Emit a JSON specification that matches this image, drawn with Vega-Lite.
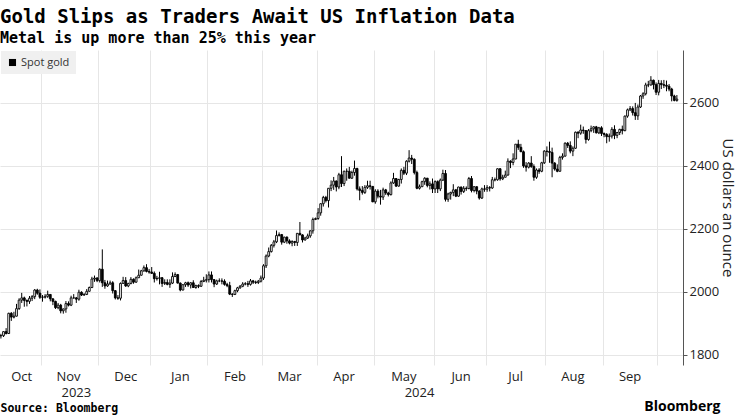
{
  "$schema": "https://vega.github.io/schema/vega-lite/v6.json",
  "width": 683,
  "height": 315,
  "autosize": {"type": "none"},
  "padding": {"left": 0, "top": 50, "right": 57, "bottom": 51},
  "background": "#ffffff",
  "title": {
    "text": "Gold Slips as Traders Await US Inflation Data",
    "subtitle": "Metal is up more than 25% this year",
    "anchor": "start",
    "frame": "group",
    "font": "DejaVu Sans Mono",
    "fontWeight": "bold",
    "fontSize": 19,
    "color": "#000000",
    "subtitleFont": "DejaVu Sans Mono",
    "subtitleFontWeight": "bold",
    "subtitleFontSize": 15,
    "subtitleColor": "#000000",
    "subtitlePadding": 4,
    "offset": 4
  },
  "config": {"view": {"stroke": null}, "font": "Open Sans"},
  "data": {"values": [
{"d":"2023-10-10","o":1861,"h":1867,"l":1852,"c":1861},
{"d":"2023-10-11","o":1861,"h":1875,"l":1857,"c":1874},
{"d":"2023-10-12","o":1874,"h":1885,"l":1865,"c":1868},
{"d":"2023-10-13","o":1868,"h":1934,"l":1867,"c":1932},
{"d":"2023-10-16","o":1932,"h":1936,"l":1908,"c":1920},
{"d":"2023-10-17","o":1920,"h":1937,"l":1916,"c":1923},
{"d":"2023-10-18","o":1923,"h":1962,"l":1922,"c":1947},
{"d":"2023-10-19","o":1947,"h":1980,"l":1943,"c":1974},
{"d":"2023-10-20","o":1974,"h":1997,"l":1965,"c":1981},
{"d":"2023-10-23","o":1981,"h":1985,"l":1953,"c":1973},
{"d":"2023-10-24","o":1973,"h":1976,"l":1954,"c":1970},
{"d":"2023-10-25","o":1970,"h":1987,"l":1962,"c":1980},
{"d":"2023-10-26","o":1980,"h":1990,"l":1971,"c":1985},
{"d":"2023-10-27","o":1985,"h":2009,"l":1977,"c":2006},
{"d":"2023-10-30","o":2006,"h":2010,"l":1991,"c":1996},
{"d":"2023-10-31","o":1996,"h":2008,"l":1978,"c":1983},
{"d":"2023-11-01","o":1983,"h":1990,"l":1969,"c":1983},
{"d":"2023-11-02","o":1983,"h":1993,"l":1979,"c":1986},
{"d":"2023-11-03","o":1986,"h":2004,"l":1981,"c":1992},
{"d":"2023-11-06","o":1992,"h":1993,"l":1970,"c":1978},
{"d":"2023-11-07","o":1978,"h":1980,"l":1958,"c":1970},
{"d":"2023-11-08","o":1970,"h":1972,"l":1946,"c":1950},
{"d":"2023-11-09","o":1950,"h":1965,"l":1945,"c":1958},
{"d":"2023-11-10","o":1958,"h":1962,"l":1932,"c":1940},
{"d":"2023-11-13","o":1940,"h":1947,"l":1931,"c":1946},
{"d":"2023-11-14","o":1946,"h":1971,"l":1934,"c":1963},
{"d":"2023-11-15","o":1963,"h":1970,"l":1954,"c":1958},
{"d":"2023-11-16","o":1958,"h":1988,"l":1955,"c":1981},
{"d":"2023-11-17","o":1981,"h":1993,"l":1979,"c":1981},
{"d":"2023-11-20","o":1981,"h":1984,"l":1965,"c":1977},
{"d":"2023-11-21","o":1977,"h":2007,"l":1972,"c":1999},
{"d":"2023-11-22","o":1999,"h":2002,"l":1987,"c":1990},
{"d":"2023-11-23","o":1990,"h":1996,"l":1988,"c":1992},
{"d":"2023-11-24","o":1992,"h":2009,"l":1990,"c":2002},
{"d":"2023-11-27","o":2002,"h":2017,"l":2001,"c":2014},
{"d":"2023-11-28","o":2014,"h":2048,"l":2012,"c":2041},
{"d":"2023-11-29","o":2041,"h":2052,"l":2032,"c":2044},
{"d":"2023-11-30","o":2044,"h":2047,"l":2031,"c":2036},
{"d":"2023-12-01","o":2036,"h":2075,"l":2030,"c":2072},
{"d":"2023-12-04","o":2072,"h":2135,"l":2016,"c":2029},
{"d":"2023-12-05","o":2029,"h":2038,"l":2010,"c":2019},
{"d":"2023-12-06","o":2019,"h":2036,"l":2016,"c":2025},
{"d":"2023-12-07","o":2025,"h":2036,"l":2023,"c":2029},
{"d":"2023-12-08","o":2029,"h":2034,"l":1995,"c":2004},
{"d":"2023-12-11","o":2004,"h":2006,"l":1976,"c":1981},
{"d":"2023-12-12","o":1981,"h":1990,"l":1975,"c":1980},
{"d":"2023-12-13","o":1980,"h":2030,"l":1973,"c":2027},
{"d":"2023-12-14","o":2027,"h":2048,"l":2026,"c":2036},
{"d":"2023-12-15","o":2036,"h":2047,"l":2016,"c":2019},
{"d":"2023-12-18","o":2019,"h":2029,"l":2015,"c":2027},
{"d":"2023-12-19","o":2027,"h":2047,"l":2024,"c":2040},
{"d":"2023-12-20","o":2040,"h":2043,"l":2026,"c":2031},
{"d":"2023-12-21","o":2031,"h":2049,"l":2029,"c":2045},
{"d":"2023-12-22","o":2045,"h":2071,"l":2044,"c":2053},
{"d":"2023-12-26","o":2053,"h":2070,"l":2052,"c":2067},
{"d":"2023-12-27","o":2067,"h":2084,"l":2064,"c":2077},
{"d":"2023-12-28","o":2077,"h":2088,"l":2062,"c":2065},
{"d":"2023-12-29","o":2065,"h":2073,"l":2058,"c":2063},
{"d":"2024-01-02","o":2063,"h":2079,"l":2057,"c":2059},
{"d":"2024-01-03","o":2059,"h":2065,"l":2030,"c":2042},
{"d":"2024-01-04","o":2042,"h":2051,"l":2036,"c":2043},
{"d":"2024-01-05","o":2043,"h":2064,"l":2024,"c":2045},
{"d":"2024-01-08","o":2045,"h":2047,"l":2016,"c":2027},
{"d":"2024-01-09","o":2027,"h":2040,"l":2022,"c":2030},
{"d":"2024-01-10","o":2030,"h":2040,"l":2021,"c":2024},
{"d":"2024-01-11","o":2024,"h":2040,"l":2013,"c":2028},
{"d":"2024-01-12","o":2028,"h":2062,"l":2025,"c":2049},
{"d":"2024-01-15","o":2049,"h":2062,"l":2047,"c":2055},
{"d":"2024-01-16","o":2055,"h":2057,"l":2027,"c":2028},
{"d":"2024-01-17","o":2028,"h":2030,"l":2002,"c":2006},
{"d":"2024-01-18","o":2006,"h":2024,"l":2005,"c":2023},
{"d":"2024-01-19","o":2023,"h":2032,"l":2016,"c":2029},
{"d":"2024-01-22","o":2029,"h":2033,"l":2016,"c":2022},
{"d":"2024-01-23","o":2022,"h":2031,"l":2011,"c":2029},
{"d":"2024-01-24","o":2029,"h":2037,"l":2013,"c":2014},
{"d":"2024-01-25","o":2014,"h":2023,"l":2010,"c":2020},
{"d":"2024-01-26","o":2020,"h":2024,"l":2012,"c":2018},
{"d":"2024-01-29","o":2018,"h":2038,"l":2016,"c":2033},
{"d":"2024-01-30","o":2033,"h":2048,"l":2031,"c":2037},
{"d":"2024-01-31","o":2037,"h":2056,"l":2030,"c":2039},
{"d":"2024-02-01","o":2039,"h":2065,"l":2030,"c":2054},
{"d":"2024-02-02","o":2054,"h":2065,"l":2030,"c":2039},
{"d":"2024-02-05","o":2039,"h":2041,"l":2015,"c":2025},
{"d":"2024-02-06","o":2025,"h":2039,"l":2022,"c":2035},
{"d":"2024-02-07","o":2035,"h":2043,"l":2031,"c":2035},
{"d":"2024-02-08","o":2035,"h":2043,"l":2024,"c":2034},
{"d":"2024-02-09","o":2034,"h":2040,"l":2020,"c":2024},
{"d":"2024-02-12","o":2024,"h":2029,"l":2015,"c":2020},
{"d":"2024-02-13","o":2020,"h":2032,"l":1990,"c":1993},
{"d":"2024-02-14","o":1993,"h":1996,"l":1984,"c":1992},
{"d":"2024-02-15","o":1992,"h":2007,"l":1990,"c":2004},
{"d":"2024-02-16","o":2004,"h":2016,"l":1999,"c":2013},
{"d":"2024-02-19","o":2013,"h":2022,"l":2010,"c":2018},
{"d":"2024-02-20","o":2018,"h":2031,"l":2015,"c":2025},
{"d":"2024-02-21","o":2025,"h":2031,"l":2021,"c":2026},
{"d":"2024-02-22","o":2026,"h":2035,"l":2016,"c":2024},
{"d":"2024-02-23","o":2024,"h":2041,"l":2020,"c":2035},
{"d":"2024-02-26","o":2035,"h":2038,"l":2025,"c":2031},
{"d":"2024-02-27","o":2031,"h":2036,"l":2025,"c":2030},
{"d":"2024-02-28","o":2030,"h":2038,"l":2025,"c":2034},
{"d":"2024-02-29","o":2034,"h":2052,"l":2030,"c":2044},
{"d":"2024-03-01","o":2044,"h":2088,"l":2038,"c":2083},
{"d":"2024-03-04","o":2083,"h":2119,"l":2076,"c":2114},
{"d":"2024-03-05","o":2114,"h":2141,"l":2110,"c":2128},
{"d":"2024-03-06","o":2128,"h":2152,"l":2125,"c":2148},
{"d":"2024-03-07","o":2148,"h":2165,"l":2141,"c":2159},
{"d":"2024-03-08","o":2159,"h":2195,"l":2155,"c":2179},
{"d":"2024-03-11","o":2179,"h":2189,"l":2176,"c":2182},
{"d":"2024-03-12","o":2182,"h":2184,"l":2150,"c":2158},
{"d":"2024-03-13","o":2158,"h":2175,"l":2155,"c":2174},
{"d":"2024-03-14","o":2174,"h":2176,"l":2153,"c":2162},
{"d":"2024-03-15","o":2162,"h":2167,"l":2151,"c":2155},
{"d":"2024-03-18","o":2155,"h":2164,"l":2145,"c":2160},
{"d":"2024-03-19","o":2160,"h":2162,"l":2146,"c":2157},
{"d":"2024-03-20","o":2157,"h":2187,"l":2146,"c":2186},
{"d":"2024-03-21","o":2186,"h":2222,"l":2180,"c":2181},
{"d":"2024-03-22","o":2181,"h":2183,"l":2157,"c":2165},
{"d":"2024-03-25","o":2165,"h":2175,"l":2163,"c":2171},
{"d":"2024-03-26","o":2171,"h":2185,"l":2168,"c":2178},
{"d":"2024-03-27","o":2178,"h":2195,"l":2172,"c":2194},
{"d":"2024-03-28","o":2194,"h":2236,"l":2185,"c":2230},
{"d":"2024-03-29","o":2230,"h":2236,"l":2228,"c":2233},
{"d":"2024-04-01","o":2233,"h":2266,"l":2229,"c":2251},
{"d":"2024-04-02","o":2251,"h":2281,"l":2242,"c":2280},
{"d":"2024-04-03","o":2280,"h":2305,"l":2271,"c":2300},
{"d":"2024-04-04","o":2300,"h":2305,"l":2284,"c":2290},
{"d":"2024-04-05","o":2290,"h":2330,"l":2268,"c":2329},
{"d":"2024-04-08","o":2329,"h":2354,"l":2320,"c":2339},
{"d":"2024-04-09","o":2339,"h":2365,"l":2324,"c":2352},
{"d":"2024-04-10","o":2352,"h":2354,"l":2319,"c":2333},
{"d":"2024-04-11","o":2333,"h":2378,"l":2326,"c":2372},
{"d":"2024-04-12","o":2372,"h":2431,"l":2333,"c":2344},
{"d":"2024-04-15","o":2344,"h":2385,"l":2336,"c":2383},
{"d":"2024-04-16","o":2383,"h":2392,"l":2353,"c":2383},
{"d":"2024-04-17","o":2383,"h":2397,"l":2360,"c":2361},
{"d":"2024-04-18","o":2361,"h":2385,"l":2359,"c":2379},
{"d":"2024-04-19","o":2379,"h":2417,"l":2369,"c":2392},
{"d":"2024-04-22","o":2392,"h":2394,"l":2322,"c":2327},
{"d":"2024-04-23","o":2327,"h":2335,"l":2291,"c":2322},
{"d":"2024-04-24","o":2322,"h":2336,"l":2309,"c":2316},
{"d":"2024-04-25","o":2316,"h":2339,"l":2311,"c":2332},
{"d":"2024-04-26","o":2332,"h":2353,"l":2327,"c":2337},
{"d":"2024-04-29","o":2337,"h":2353,"l":2325,"c":2335},
{"d":"2024-04-30","o":2335,"h":2336,"l":2285,"c":2286},
{"d":"2024-05-01","o":2286,"h":2326,"l":2280,"c":2320},
{"d":"2024-05-02","o":2320,"h":2326,"l":2297,"c":2304},
{"d":"2024-05-03","o":2304,"h":2324,"l":2277,"c":2301},
{"d":"2024-05-06","o":2301,"h":2331,"l":2292,"c":2324},
{"d":"2024-05-07","o":2324,"h":2327,"l":2308,"c":2314},
{"d":"2024-05-08","o":2314,"h":2318,"l":2303,"c":2309},
{"d":"2024-05-09","o":2309,"h":2351,"l":2306,"c":2346},
{"d":"2024-05-10","o":2346,"h":2378,"l":2343,"c":2360},
{"d":"2024-05-13","o":2360,"h":2361,"l":2333,"c":2336},
{"d":"2024-05-14","o":2336,"h":2359,"l":2334,"c":2357},
{"d":"2024-05-15","o":2357,"h":2392,"l":2344,"c":2386},
{"d":"2024-05-16","o":2386,"h":2397,"l":2371,"c":2377},
{"d":"2024-05-17","o":2377,"h":2418,"l":2371,"c":2415},
{"d":"2024-05-20","o":2415,"h":2450,"l":2411,"c":2425},
{"d":"2024-05-21","o":2425,"h":2435,"l":2406,"c":2421},
{"d":"2024-05-22","o":2421,"h":2424,"l":2373,"c":2379},
{"d":"2024-05-23","o":2379,"h":2385,"l":2326,"c":2329},
{"d":"2024-05-24","o":2329,"h":2341,"l":2325,"c":2334},
{"d":"2024-05-27","o":2334,"h":2353,"l":2333,"c":2350},
{"d":"2024-05-28","o":2350,"h":2364,"l":2340,"c":2361},
{"d":"2024-05-29","o":2361,"h":2362,"l":2332,"c":2338},
{"d":"2024-05-30","o":2338,"h":2351,"l":2325,"c":2343},
{"d":"2024-05-31","o":2343,"h":2360,"l":2314,"c":2327},
{"d":"2024-06-03","o":2327,"h":2354,"l":2314,"c":2350},
{"d":"2024-06-04","o":2350,"h":2354,"l":2314,"c":2327},
{"d":"2024-06-05","o":2327,"h":2360,"l":2320,"c":2355},
{"d":"2024-06-06","o":2355,"h":2388,"l":2352,"c":2376},
{"d":"2024-06-07","o":2376,"h":2387,"l":2287,"c":2294},
{"d":"2024-06-10","o":2294,"h":2315,"l":2286,"c":2311},
{"d":"2024-06-11","o":2311,"h":2318,"l":2293,"c":2316},
{"d":"2024-06-12","o":2316,"h":2342,"l":2304,"c":2324},
{"d":"2024-06-13","o":2324,"h":2327,"l":2301,"c":2304},
{"d":"2024-06-14","o":2304,"h":2334,"l":2302,"c":2333},
{"d":"2024-06-17","o":2333,"h":2334,"l":2309,"c":2319},
{"d":"2024-06-18","o":2319,"h":2336,"l":2314,"c":2329},
{"d":"2024-06-19","o":2329,"h":2335,"l":2321,"c":2328},
{"d":"2024-06-20","o":2328,"h":2365,"l":2326,"c":2360},
{"d":"2024-06-21","o":2360,"h":2368,"l":2316,"c":2322},
{"d":"2024-06-24","o":2322,"h":2335,"l":2316,"c":2334},
{"d":"2024-06-25","o":2334,"h":2335,"l":2310,"c":2320},
{"d":"2024-06-26","o":2320,"h":2323,"l":2293,"c":2298},
{"d":"2024-06-27","o":2298,"h":2331,"l":2295,"c":2327},
{"d":"2024-06-28","o":2327,"h":2339,"l":2318,"c":2326},
{"d":"2024-07-01","o":2326,"h":2339,"l":2318,"c":2331},
{"d":"2024-07-02","o":2331,"h":2336,"l":2319,"c":2330},
{"d":"2024-07-03","o":2330,"h":2365,"l":2327,"c":2356},
{"d":"2024-07-04","o":2356,"h":2363,"l":2351,"c":2356},
{"d":"2024-07-05","o":2356,"h":2392,"l":2353,"c":2391},
{"d":"2024-07-08","o":2391,"h":2393,"l":2353,"c":2359},
{"d":"2024-07-09","o":2359,"h":2372,"l":2355,"c":2364},
{"d":"2024-07-10","o":2364,"h":2385,"l":2364,"c":2371},
{"d":"2024-07-11","o":2371,"h":2424,"l":2369,"c":2415},
{"d":"2024-07-12","o":2415,"h":2418,"l":2393,"c":2411},
{"d":"2024-07-15","o":2411,"h":2440,"l":2402,"c":2422},
{"d":"2024-07-16","o":2422,"h":2469,"l":2421,"c":2469},
{"d":"2024-07-17","o":2469,"h":2483,"l":2451,"c":2459},
{"d":"2024-07-18","o":2459,"h":2470,"l":2444,"c":2445},
{"d":"2024-07-19","o":2445,"h":2449,"l":2394,"c":2400},
{"d":"2024-07-22","o":2400,"h":2412,"l":2382,"c":2396},
{"d":"2024-07-23","o":2396,"h":2412,"l":2392,"c":2409},
{"d":"2024-07-24","o":2409,"h":2431,"l":2394,"c":2398},
{"d":"2024-07-25","o":2398,"h":2405,"l":2353,"c":2364},
{"d":"2024-07-26","o":2364,"h":2392,"l":2359,"c":2387},
{"d":"2024-07-29","o":2387,"h":2393,"l":2375,"c":2383},
{"d":"2024-07-30","o":2383,"h":2413,"l":2380,"c":2410},
{"d":"2024-07-31","o":2410,"h":2450,"l":2406,"c":2447},
{"d":"2024-08-01","o":2447,"h":2462,"l":2430,"c":2446},
{"d":"2024-08-02","o":2446,"h":2477,"l":2410,"c":2443},
{"d":"2024-08-05","o":2443,"h":2458,"l":2364,"c":2409},
{"d":"2024-08-06","o":2409,"h":2412,"l":2385,"c":2390},
{"d":"2024-08-07","o":2390,"h":2405,"l":2380,"c":2383},
{"d":"2024-08-08","o":2383,"h":2432,"l":2382,"c":2427},
{"d":"2024-08-09","o":2427,"h":2440,"l":2420,"c":2431},
{"d":"2024-08-12","o":2431,"h":2475,"l":2430,"c":2472},
{"d":"2024-08-13","o":2472,"h":2476,"l":2457,"c":2465},
{"d":"2024-08-14","o":2465,"h":2478,"l":2440,"c":2447},
{"d":"2024-08-15","o":2447,"h":2462,"l":2431,"c":2456},
{"d":"2024-08-16","o":2456,"h":2509,"l":2454,"c":2507},
{"d":"2024-08-19","o":2507,"h":2510,"l":2488,"c":2504},
{"d":"2024-08-20","o":2504,"h":2531,"l":2499,"c":2514},
{"d":"2024-08-21","o":2514,"h":2525,"l":2502,"c":2512},
{"d":"2024-08-22","o":2512,"h":2514,"l":2471,"c":2484},
{"d":"2024-08-23","o":2484,"h":2517,"l":2480,"c":2512},
{"d":"2024-08-26","o":2512,"h":2528,"l":2507,"c":2518},
{"d":"2024-08-27","o":2518,"h":2526,"l":2505,"c":2524},
{"d":"2024-08-28","o":2524,"h":2527,"l":2503,"c":2505},
{"d":"2024-08-29","o":2505,"h":2524,"l":2501,"c":2521},
{"d":"2024-08-30","o":2521,"h":2526,"l":2495,"c":2503},
{"d":"2024-09-02","o":2503,"h":2506,"l":2491,"c":2500},
{"d":"2024-09-03","o":2500,"h":2504,"l":2472,"c":2493},
{"d":"2024-09-04","o":2493,"h":2503,"l":2477,"c":2495},
{"d":"2024-09-05","o":2495,"h":2523,"l":2487,"c":2516},
{"d":"2024-09-06","o":2516,"h":2529,"l":2485,"c":2497},
{"d":"2024-09-09","o":2497,"h":2508,"l":2488,"c":2506},
{"d":"2024-09-10","o":2506,"h":2518,"l":2498,"c":2516},
{"d":"2024-09-11","o":2516,"h":2528,"l":2500,"c":2512},
{"d":"2024-09-12","o":2512,"h":2560,"l":2510,"c":2558},
{"d":"2024-09-13","o":2558,"h":2582,"l":2553,"c":2578},
{"d":"2024-09-16","o":2578,"h":2590,"l":2574,"c":2582},
{"d":"2024-09-17","o":2582,"h":2589,"l":2560,"c":2569},
{"d":"2024-09-18","o":2569,"h":2600,"l":2546,"c":2559},
{"d":"2024-09-19","o":2559,"h":2595,"l":2546,"c":2587},
{"d":"2024-09-20","o":2587,"h":2625,"l":2584,"c":2622},
{"d":"2024-09-23","o":2622,"h":2634,"l":2613,"c":2629},
{"d":"2024-09-24","o":2629,"h":2664,"l":2624,"c":2657},
{"d":"2024-09-25","o":2657,"h":2670,"l":2650,"c":2657},
{"d":"2024-09-26","o":2657,"h":2685,"l":2655,"c":2672},
{"d":"2024-09-27","o":2672,"h":2674,"l":2643,"c":2658},
{"d":"2024-09-30","o":2658,"h":2665,"l":2625,"c":2634},
{"d":"2024-10-01","o":2634,"h":2673,"l":2624,"c":2662},
{"d":"2024-10-02","o":2662,"h":2672,"l":2644,"c":2658},
{"d":"2024-10-03","o":2658,"h":2673,"l":2647,"c":2656},
{"d":"2024-10-04","o":2656,"h":2671,"l":2637,"c":2653},
{"d":"2024-10-07","o":2653,"h":2660,"l":2637,"c":2644},
{"d":"2024-10-08","o":2644,"h":2648,"l":2605,"c":2622},
{"d":"2024-10-09","o":2622,"h":2626,"l":2605,"c":2608},
{"d":"2024-10-10","o":2608,"h":2625,"l":2604,"c":2612}
  ]},
  "resolve": {"scale": {"x": "shared", "y": "shared"}, "axis": {"x": "independent", "y": "shared"}},
  "layer": [
    {
      "mark": {"type": "rule", "color": "#000000", "strokeWidth": 1},
      "encoding": {
        "x": {
          "field": "d", "type": "ordinal",
          "scale": {"type": "band", "paddingInner": 0.3, "paddingOuter": 2.15, "align": 0},
          "axis": {
            "orient": "bottom",
            "values": ["2023-10-20","2023-11-15","2023-12-15","2024-01-17","2024-02-15","2024-03-15","2024-04-15","2024-05-16","2024-06-17","2024-07-16","2024-08-15","2024-09-16"],
            "labelExpr": "utcFormat(toDate(datum.value), '%b')",
            "labelAngle": 0,
            "labelFont": "Open Sans",
            "labelFontSize": 13,
            "labelColor": "#222222",
            "labelPadding": 5,
            "labelOverlap": false,
            "ticks": false,
            "domain": false,
            "grid": false,
            "title": null
          }
        },
        "y": {
          "field": "l", "type": "quantitative",
          "title": "US dollars an ounce",
          "scale": {"domain": [1768, 2768], "nice": false, "zero": false},
          "axis": {
            "orient": "right",
            "values": [1800, 1900, 2000, 2100, 2200, 2300, 2400, 2500, 2600, 2700],
            "format": "d",
            "labelExpr": "datum.value % 200 == 0 ? datum.label : ''",
            "labelFont": "Open Sans",
            "labelFontSize": 13,
            "labelColor": "#222222",
            "labelPadding": 2,
            "tickSize": 4,
            "tickColor": "#555555",
            "domainColor": "#555555",
            "grid": true,
            "gridColor": "#e6e6e6",
            "gridOpacity": {"condition": {"test": "datum.value % 200 == 0", "value": 1}, "value": 0},
            "title": "US dollars an ounce",
            "titleFont": "Open Sans",
            "titleFontSize": 15,
            "titleFontWeight": "normal",
            "titleColor": "#222222",
            "titlePadding": 1
          }
        },
        "y2": {"field": "h"}
      }
    },
    {
      "transform": [{"filter": "datum.c >= datum.o"}],
      "mark": {"type": "bar", "fill": "#ffffff", "stroke": "#000000", "strokeWidth": 0.9},
      "encoding": {
        "x": {
          "field": "d", "type": "ordinal",
          "scale": {"type": "band", "paddingInner": 0.3, "paddingOuter": 2.15, "align": 0},
          "axis": {
            "orient": "bottom",
            "offset": 16,
            "values": ["2023-11-20", "2024-05-24"],
            "labelExpr": "slice(datum.value, 0, 4)",
            "labelAngle": 0,
            "labelFont": "Open Sans",
            "labelFontSize": 13,
            "labelColor": "#222222",
            "labelPadding": 5,
            "ticks": false,
            "domain": false,
            "grid": false,
            "title": "Source: Bloomberg",
            "titleAnchor": "start",
            "titleFont": "DejaVu Sans Mono",
            "titleFontWeight": "bold",
            "titleFontSize": 11.5,
            "titleColor": "#000000",
            "titlePadding": 3
          }
        },
        "y": {"field": "o", "type": "quantitative", "title": "US dollars an ounce"},
        "y2": {"field": "c"}
      }
    },
    {
      "transform": [{"filter": "datum.c < datum.o"}],
      "mark": {"type": "bar", "stroke": "#000000", "strokeWidth": 0.9},
      "encoding": {
        "x": {
          "field": "d", "type": "ordinal",
          "scale": {"type": "band", "paddingInner": 0.3, "paddingOuter": 2.15, "align": 0},
          "axis": {
            "orient": "bottom",
            "values": ["2023-11-01","2023-12-01","2024-01-02","2024-02-01","2024-03-01","2024-04-01","2024-05-01","2024-06-03","2024-07-01","2024-08-01","2024-09-02","2024-10-01"],
            "bandPosition": 0,
            "labels": false,
            "ticks": false,
            "domain": false,
            "grid": true,
            "gridColor": "#e6e6e6",
            "title": "Bloomberg",
            "titleX": 720,
            "titleAlign": "right",
            "titleFont": "Open Sans",
            "titleFontWeight": "bold",
            "titleFontSize": 14,
            "titleColor": "#000000",
            "titlePadding": 34
          }
        },
        "y": {"field": "o", "type": "quantitative", "title": "US dollars an ounce"},
        "y2": {"field": "c"},
        "fill": {
          "datum": "Spot gold", "type": "nominal",
          "scale": {"range": ["#000000"]},
          "legend": {
            "orient": "top-left",
            "title": null,
            "offset": 1,
            "fillColor": "#f0f0f0",
            "padding": 6,
            "symbolType": "square",
            "symbolSize": 50,
            "symbolStrokeWidth": 0,
            "labelFont": "Open Sans",
            "labelFontSize": 11,
            "labelColor": "#333333",
            "labelOffset": 3
          }
        }
      }
    }
  ]
}
